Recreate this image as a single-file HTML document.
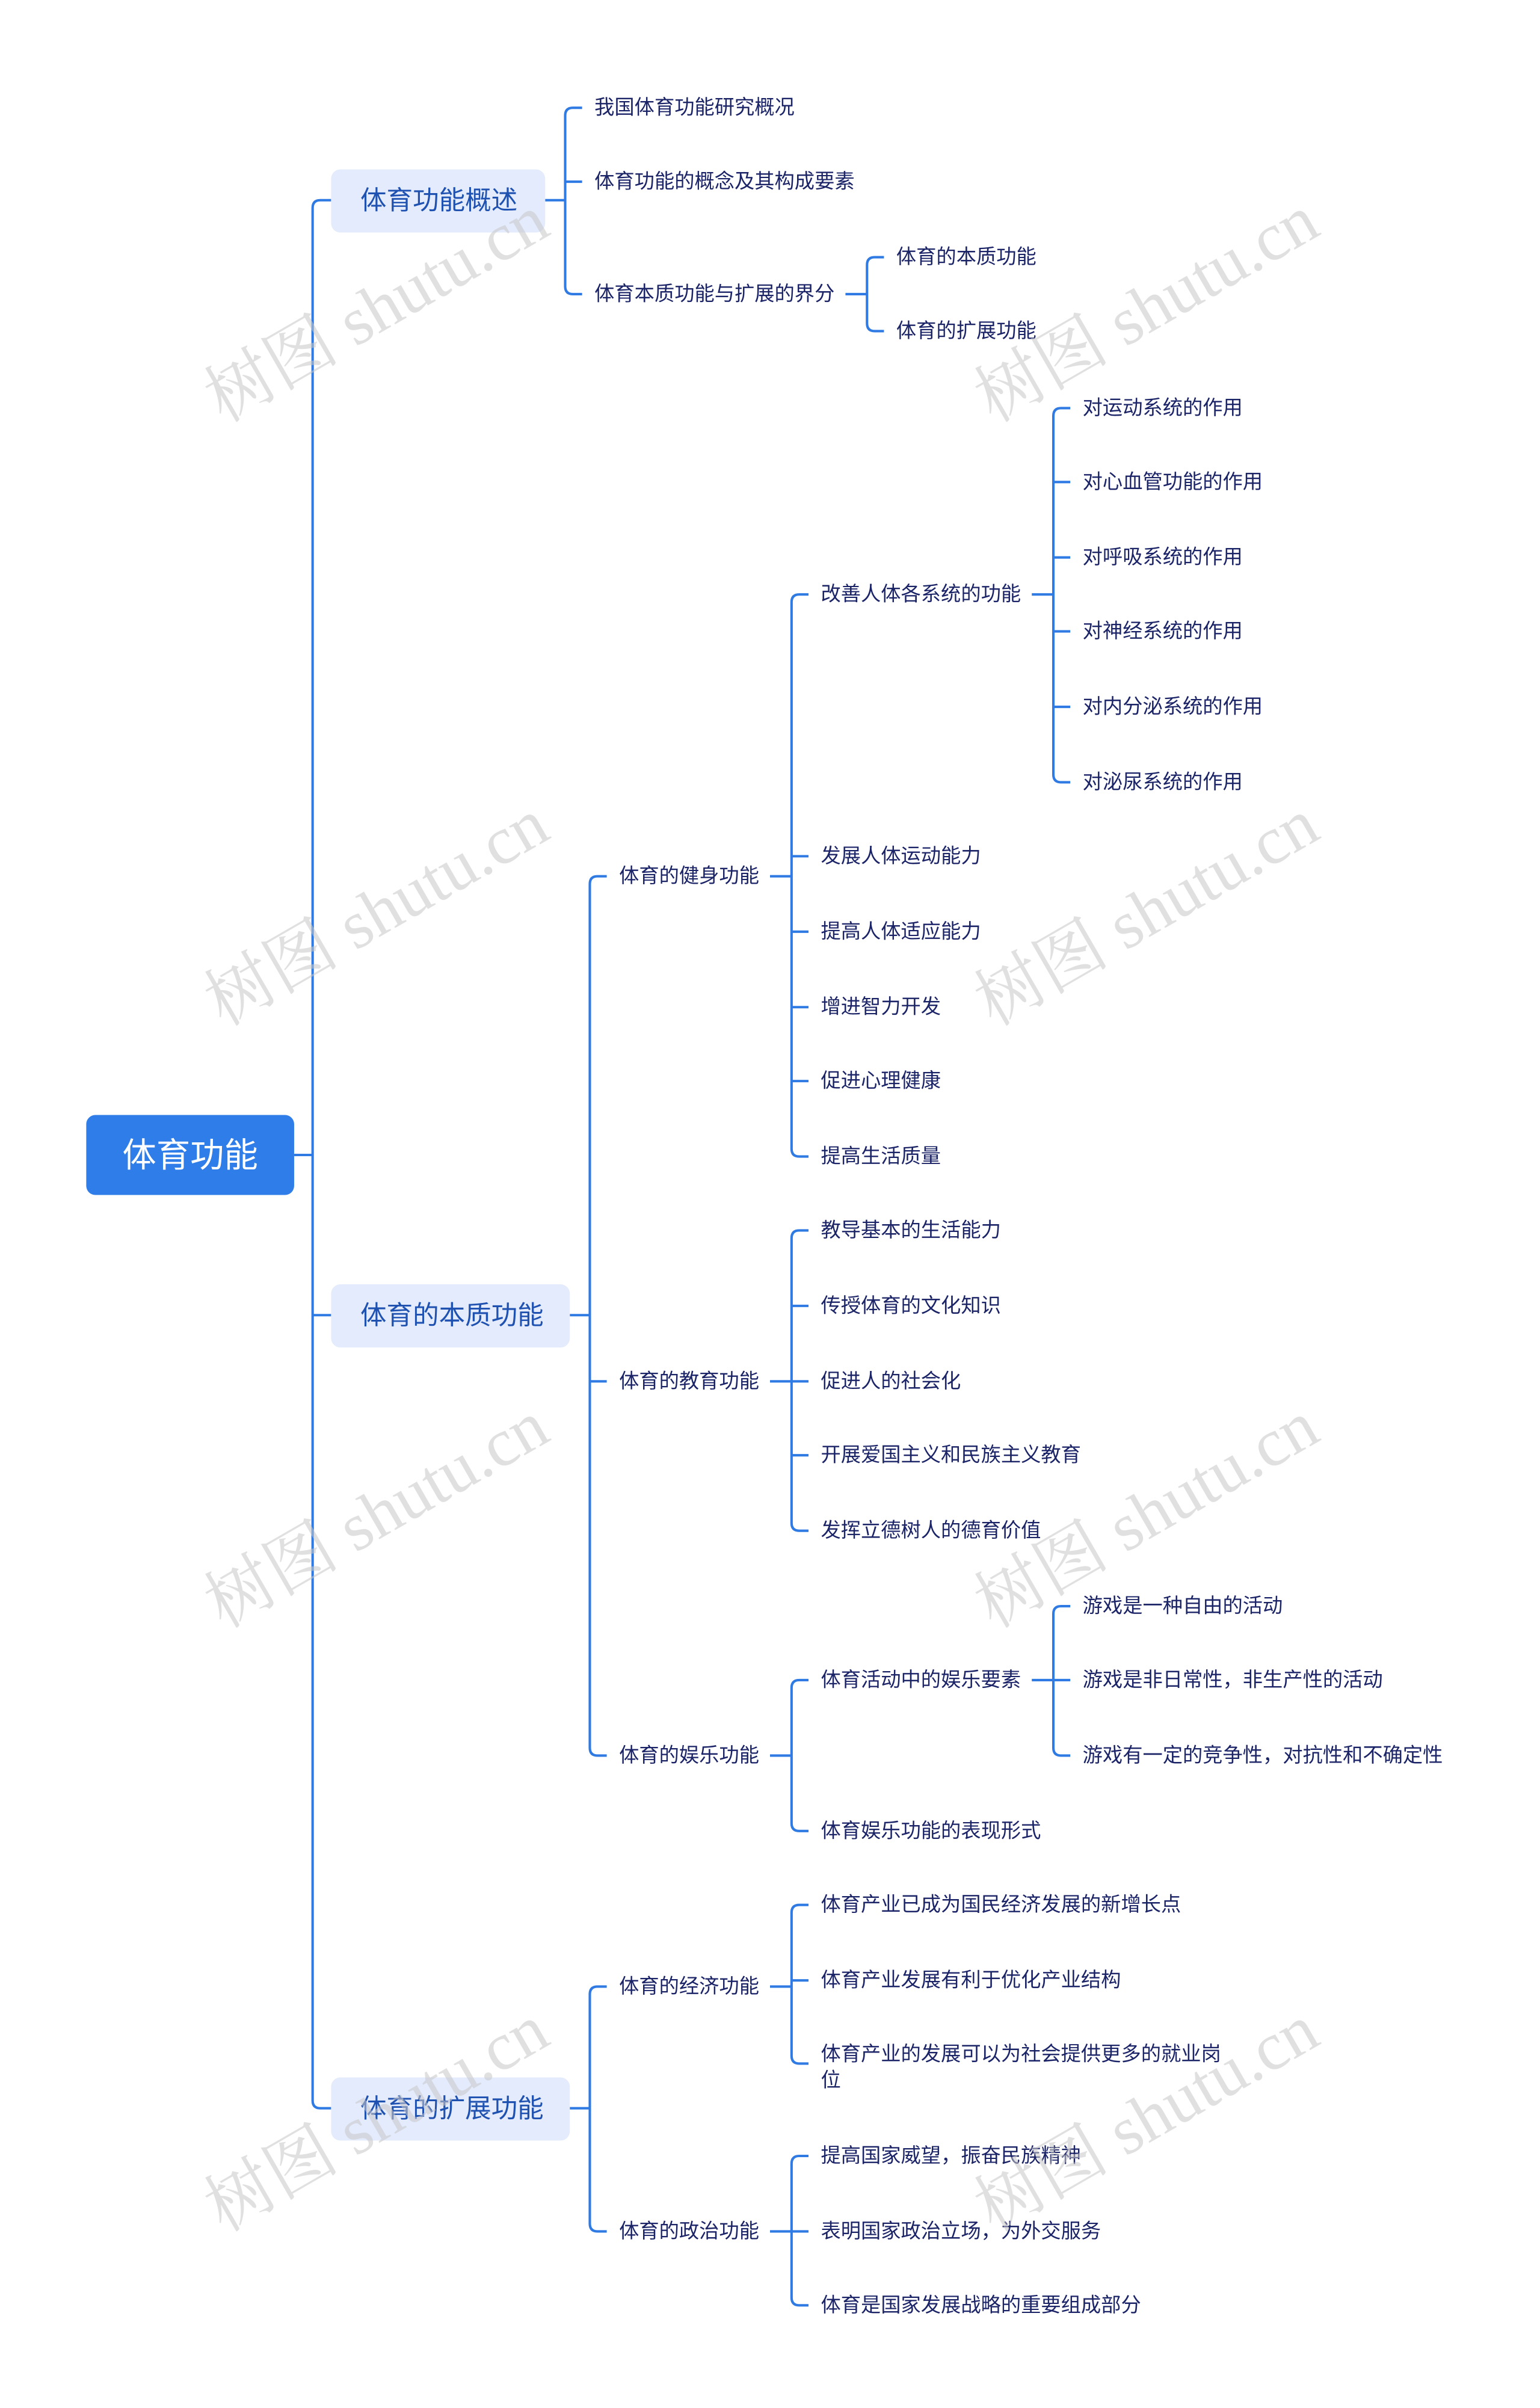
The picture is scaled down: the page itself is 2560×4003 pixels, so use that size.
<!DOCTYPE html>
<html><head><meta charset="utf-8"><style>
html,body{margin:0;padding:0;background:#fff;}
svg{display:block;}
text{font-family:"Liberation Sans","Noto Sans CJK SC",sans-serif;}
.l{font-size:13px;fill:#1c2468;}
.m{font-size:17px;fill:#1f52b0;}
.w{font-size:44px;fill:#c8c8c8;opacity:.55;font-family:"Liberation Serif","Noto Serif CJK SC",serif;}
path{fill:none;stroke:#2f7be3;stroke-width:1.6;}
</style></head><body>
<svg width="2560" height="4003" viewBox="0 0 1000 1563.67" xmlns="http://www.w3.org/2000/svg">
<path d="M191 750 H203 M215 130 H208 Q203 130 203 135 V1364 Q203 1369 208 1369 H215 M203 854 H215"/>
<path d="M354 130 H367 M378 70 H372 Q367 70 367 75 V186 Q367 191 372 191 H378 M367 118 H378"/>
<path d="M549 191 H563 M574 167 H568 Q563 167 563 172 V210 Q563 215 568 215 H574"/>
<path d="M370 854 H383 M394 569 H388 Q383 569 383 574 V1135 Q383 1140 388 1140 H394 M383 897 H394"/>
<path d="M500 569 H514 M525 386 H519 Q514 386 514 391 V746 Q514 751 519 751 H525 M514 556 H525 M514 605 H525 M514 654 H525 M514 702 H525"/>
<path d="M670 386 H684 M695 265 H689 Q684 265 684 270 V503 Q684 508 689 508 H695 M684 313 H695 M684 362 H695 M684 410 H695 M684 459 H695"/>
<path d="M500 897 H514 M525 799 H519 Q514 799 514 804 V989 Q514 994 519 994 H525 M514 848 H525 M514 897 H525 M514 945 H525"/>
<path d="M500 1140 H514 M525 1091 H519 Q514 1091 514 1096 V1184 Q514 1189 519 1189 H525"/>
<path d="M670 1091 H684 M695 1043 H689 Q684 1043 684 1048 V1135 Q684 1140 689 1140 H695 M684 1091 H695"/>
<path d="M370 1369 H383 M394 1290 H388 Q383 1290 383 1295 V1444 Q383 1449 388 1449 H394"/>
<path d="M500 1290 H514 M525 1237 H519 Q514 1237 514 1242 V1335 Q514 1340 519 1340 H525 M514 1286 H525"/>
<path d="M500 1449 H514 M525 1400 H519 Q514 1400 514 1405 V1492 Q514 1497 519 1497 H525 M514 1449 H525"/>

<rect x="56" y="724" width="135" height="52" rx="6" fill="#2f7de8"/>
<text x="123.5" y="750" text-anchor="middle" dominant-baseline="central" style="font-size:22px;fill:#fff">体育功能</text>

<rect x="215" y="110" width="139" height="41" rx="6" fill="#e3ebfc"/>
<text class="m" x="234" y="130.5" dominant-baseline="central">体育功能概述</text>
<rect x="215" y="834" width="155" height="41" rx="6" fill="#e3ebfc"/>
<text class="m" x="234" y="854.5" dominant-baseline="central">体育的本质功能</text>
<rect x="215" y="1349" width="155" height="41" rx="6" fill="#e3ebfc"/>
<text class="m" x="234" y="1369.5" dominant-baseline="central">体育的扩展功能</text>

<g>
<text class="l" x="386" y="70" dominant-baseline="central">我国体育功能研究概况</text>
<text class="l" x="386" y="118" dominant-baseline="central">体育功能的概念及其构成要素</text>
<text class="l" x="386" y="191" dominant-baseline="central">体育本质功能与扩展的界分</text>
<text class="l" x="582" y="167" dominant-baseline="central">体育的本质功能</text>
<text class="l" x="582" y="215" dominant-baseline="central">体育的扩展功能</text>

<text class="l" x="402" y="569" dominant-baseline="central">体育的健身功能</text>
<text class="l" x="402" y="897" dominant-baseline="central">体育的教育功能</text>
<text class="l" x="402" y="1140" dominant-baseline="central">体育的娱乐功能</text>
<text class="l" x="402" y="1290" dominant-baseline="central">体育的经济功能</text>
<text class="l" x="402" y="1449" dominant-baseline="central">体育的政治功能</text>

<text class="l" x="533" y="386" dominant-baseline="central">改善人体各系统的功能</text>
<text class="l" x="533" y="556" dominant-baseline="central">发展人体运动能力</text>
<text class="l" x="533" y="605" dominant-baseline="central">提高人体适应能力</text>
<text class="l" x="533" y="654" dominant-baseline="central">增进智力开发</text>
<text class="l" x="533" y="702" dominant-baseline="central">促进心理健康</text>
<text class="l" x="533" y="751" dominant-baseline="central">提高生活质量</text>

<text class="l" x="703" y="265" dominant-baseline="central">对运动系统的作用</text>
<text class="l" x="703" y="313" dominant-baseline="central">对心血管功能的作用</text>
<text class="l" x="703" y="362" dominant-baseline="central">对呼吸系统的作用</text>
<text class="l" x="703" y="410" dominant-baseline="central">对神经系统的作用</text>
<text class="l" x="703" y="459" dominant-baseline="central">对内分泌系统的作用</text>
<text class="l" x="703" y="508" dominant-baseline="central">对泌尿系统的作用</text>

<text class="l" x="533" y="799" dominant-baseline="central">教导基本的生活能力</text>
<text class="l" x="533" y="848" dominant-baseline="central">传授体育的文化知识</text>
<text class="l" x="533" y="897" dominant-baseline="central">促进人的社会化</text>
<text class="l" x="533" y="945" dominant-baseline="central">开展爱国主义和民族主义教育</text>
<text class="l" x="533" y="994" dominant-baseline="central">发挥立德树人的德育价值</text>

<text class="l" x="533" y="1091" dominant-baseline="central">体育活动中的娱乐要素</text>
<text class="l" x="533" y="1189" dominant-baseline="central">体育娱乐功能的表现形式</text>
<text class="l" x="703" y="1043" dominant-baseline="central">游戏是一种自由的活动</text>
<text class="l" x="703" y="1091" dominant-baseline="central">游戏是非日常性，非生产性的活动</text>
<text class="l" x="703" y="1140" dominant-baseline="central">游戏有一定的竞争性，对抗性和不确定性</text>

<text class="l" x="533" y="1237" dominant-baseline="central">体育产业已成为国民经济发展的新增长点</text>
<text class="l" x="533" y="1286" dominant-baseline="central">体育产业发展有利于优化产业结构</text>
<text class="l" x="533" y="1334" dominant-baseline="central">体育产业的发展可以为社会提供更多的就业岗</text>
<text class="l" x="533" y="1351" dominant-baseline="central">位</text>

<text class="l" x="533" y="1400" dominant-baseline="central">提高国家威望，振奋民族精神</text>
<text class="l" x="533" y="1449" dominant-baseline="central">表明国家政治立场，为外交服务</text>
<text class="l" x="533" y="1497" dominant-baseline="central">体育是国家发展战略的重要组成部分</text>
</g>

<g>
<text class="w" transform="translate(145,275) rotate(-30)">树图 shutu.cn</text>
<text class="w" transform="translate(645,275) rotate(-30)">树图 shutu.cn</text>
<text class="w" transform="translate(145,667) rotate(-30)">树图 shutu.cn</text>
<text class="w" transform="translate(645,667) rotate(-30)">树图 shutu.cn</text>
<text class="w" transform="translate(145,1058) rotate(-30)">树图 shutu.cn</text>
<text class="w" transform="translate(645,1058) rotate(-30)">树图 shutu.cn</text>
<text class="w" transform="translate(145,1450) rotate(-30)">树图 shutu.cn</text>
<text class="w" transform="translate(645,1450) rotate(-30)">树图 shutu.cn</text>
</g>
</svg>
</body></html>
